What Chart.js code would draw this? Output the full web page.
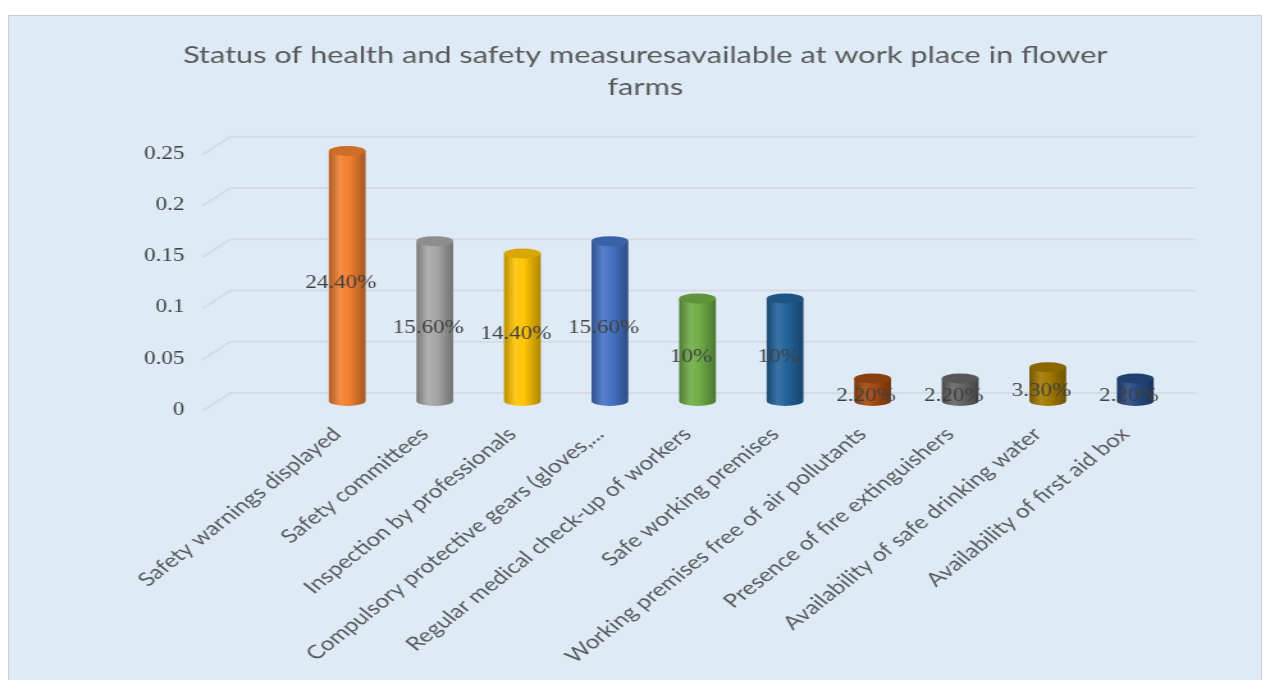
<!DOCTYPE html>
<html>
<head>
<meta charset="utf-8">
<script src="https://cdn.jsdelivr.net/npm/chart.js@4.4.1/dist/chart.umd.min.js"></script>
<style>
  html, body { margin: 0; padding: 0; background: #fff; }
  #box {
    position: absolute; left: 8px; top: 15px; width: 1252px; height: 665px;
    background: #DEEBF7; border: 1px solid #C9CDD2; border-bottom: none; overflow: hidden;
  }
  /* the original picture is stretched sideways, so stretch the canvas the same way */
  #stretch { width: 978px; height: 665px; transform: scale(1.2802, 1); transform-origin: 0 0; }
  canvas { display: block; }
</style>
</head>
<body>
<div id="box"><div id="stretch"><canvas id="safetyChart" width="978" height="665"></canvas></div></div>
<script>
const categories = [
    'Safety warnings displayed',
    'Safety committees',
    'Inspection by professionals',
    'Compulsory protective gears (gloves,...',
    'Regular medical check-up of workers',
    'Safe working premises',
    'Working premises free of air pollutants',
    'Presence of fire extinguishers',
    'Availability of safe drinking water',
    'Availability of first aid box'
];
const shares = [0.244, 0.156, 0.144, 0.156, 0.10, 0.10, 0.022, 0.022, 0.033, 0.022];
const shareLabels = ['24.40%', '15.60%', '14.40%', '15.60%', '10%', '10%', '2.20%', '2.20%', '3.30%', '2.20%'];
const yTickLabels = ['0', '0.05', '0.1', '0.15', '0.2', '0.25'];
const barColors = ['#F2802F', '#A6A6A6', '#FFC404', '#4472C4', '#70AD47', '#23639B', '#A34A10', '#666666', '#A37900', '#274A82'];

function shade(hex, f) {
    const n = parseInt(hex.slice(1), 16);
    let r = (n >> 16) & 255, g = (n >> 8) & 255, b = n & 255;
    const mix = v => f >= 1 ? Math.round(v + (255 - v) * (f - 1)) : Math.round(v * f);
    return 'rgb(' + mix(r) + ',' + mix(g) + ',' + mix(b) + ')';
}

// back wall grid with the little 3D lead-in lines
const wallGrid = {
    id: 'wallGrid',
    beforeDatasetsDraw(chart) {
        const {ctx, chartArea, scales: {y}} = chart;
        ctx.save();
        ctx.strokeStyle = '#D6DBE1';
        ctx.lineWidth = 2;
        y.ticks.forEach(t => {
            const py = y.getPixelForValue(t.value) - 8;
            ctx.beginPath();
            ctx.moveTo(chartArea.left - 79, py + 18);
            ctx.lineTo(chartArea.left - 57, py);
            ctx.lineTo(chartArea.right + 13, py);
            ctx.stroke();
        });
        ctx.restore();
    }
};

// cylinders + centred value labels
const cylinders = {
    id: 'cylinders',
    afterDatasetsDraw(chart) {
        const {ctx} = chart;
        const meta = chart.getDatasetMeta(0);
        ctx.save();
        meta.data.forEach((bar, i) => {
            const {x, y, base, width} = bar.getProps(['x', 'y', 'base', 'width'], true);
            const rx = width / 2, ry = 5;
            const c = barColors[i];
            const grad = ctx.createLinearGradient(x - rx, 0, x + rx, 0);
            grad.addColorStop(0, shade(c, 0.72));
            grad.addColorStop(0.3, shade(c, 1.1));
            grad.addColorStop(0.55, shade(c, 1.0));
            grad.addColorStop(1, shade(c, 0.68));
            ctx.fillStyle = grad;
            ctx.beginPath();
            ctx.moveTo(x - rx, y);
            ctx.lineTo(x - rx, base);
            ctx.ellipse(x, base, rx, ry, 0, Math.PI, 0, true);
            ctx.lineTo(x + rx, y);
            ctx.closePath();
            ctx.fill();
            ctx.fillStyle = shade(c, 0.85);
            ctx.beginPath();
            ctx.ellipse(x, y, rx, ry, 0, 0, Math.PI * 2);
            ctx.fill();
        });
        ctx.fillStyle = '#404040';
        ctx.font = '18px "Liberation Serif"';
        ctx.textAlign = 'center';
        ctx.textBaseline = 'middle';
        meta.data.forEach((bar, i) => {
            const {x, y, base} = bar.getProps(['x', 'y', 'base'], true);
            ctx.fillText(shareLabels[i], x - 5, (y + base) / 2 + 7);
        });
        ctx.restore();
    }
};

new Chart(document.getElementById('safetyChart'), {
    type: 'bar',
    data: {
        labels: categories,
        datasets: [{
            data: shares,
            backgroundColor: 'rgba(0,0,0,0)',
            categoryPercentage: 1,
            barPercentage: 0.42
        }]
    },
    options: {
        responsive: false,
        animation: false,
        devicePixelRatio: 1,
        layout: { padding: { left: 80, right: 64, top: 0, bottom: 0 } },
        plugins: {
            legend: { display: false },
            tooltip: { enabled: false },
            title: {
                display: true,
                text: ['Status of health and safety measuresavailable at work place in flower', 'farms'],
                color: '#595959',
                font: { family: 'Lato', size: 24, weight: 'normal', lineHeight: 1.33 },
                padding: { top: 23, bottom: 42 }
            }
        },
        scales: {
            y: {
                min: 0,
                max: 0.25,
                ticks: {
                    stepSize: 0.05,
                    padding: 85,
                    labelOffset: 9,
                    color: '#404040',
                    font: { family: 'Liberation Serif', size: 18 },
                    callback: (v, i) => yTickLabels[i]
                },
                grid: { display: false },
                border: { display: false },
                afterFit(s) { s.width = 150; }
            },
            x: {
                ticks: {
                    autoSkip: false,
                    maxRotation: 45,
                    minRotation: 45,
                    padding: 14,
                    labelOffset: -8,
                    color: '#595959',
                    font: { family: 'Lato', size: 19 }
                },
                grid: { display: false },
                border: { display: false },
                afterFit(s) { s.height = 280; }
            }
        }
    },
    plugins: [wallGrid, cylinders]
});
</script>
</body>
</html>
